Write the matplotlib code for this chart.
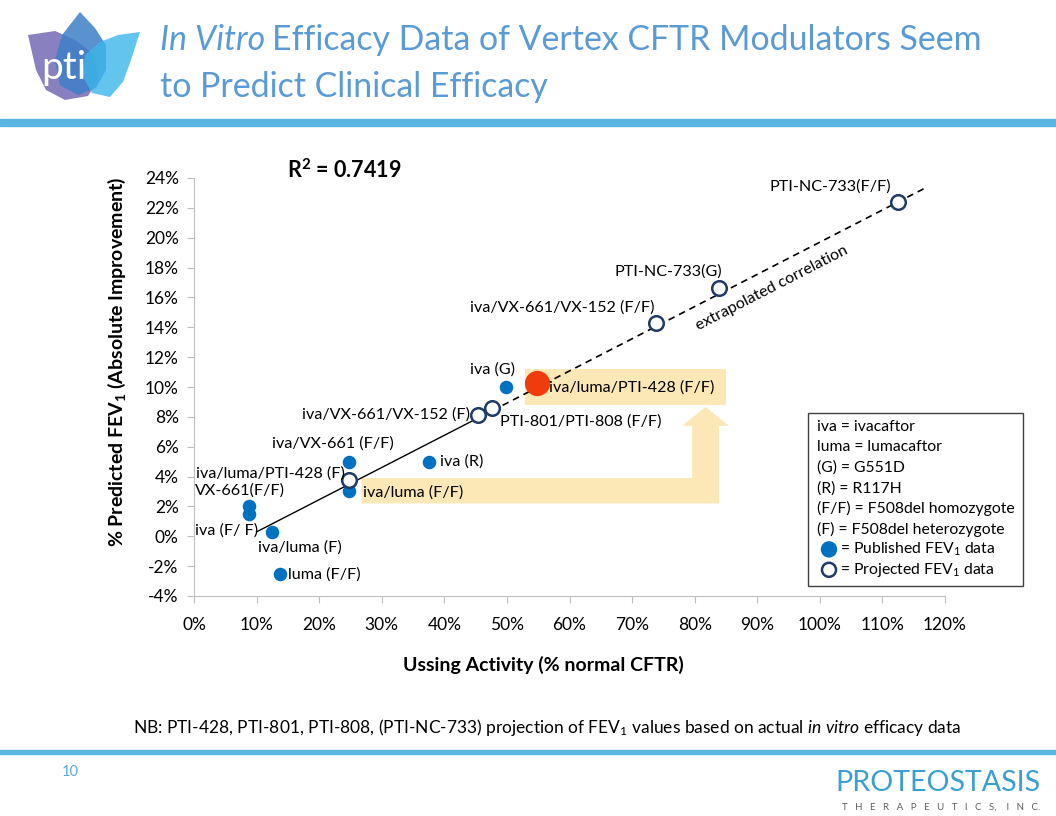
import matplotlib
matplotlib.use("Agg")
import matplotlib.pyplot as plt
from matplotlib.patches import Polygon, Rectangle, Ellipse
from matplotlib import font_manager
import numpy as np

plt.rcParams['font.family'] = ['Lato', 'DejaVu Sans']
plt.rcParams['mathtext.fontset'] = 'custom'
plt.rcParams['mathtext.rm'] = 'Lato'
plt.rcParams['mathtext.it'] = 'Lato:italic'
plt.rcParams['mathtext.bf'] = 'Lato:bold'

# ---------------- data ----------------
published_labels = ["iva (F/ F)", "VX-661(F/F)", "iva/luma (F)", "luma (F/F)",
                    "iva/VX-661 (F/F)", "iva/luma (F/F)", "iva (R)", "iva (G)"]
published_x = [8.8, 8.8, 12.5, 13.7, 24.8, 24.8, 37.5, 49.8]
published_y = [1.5, 2.0, 0.3, -2.5, 5.0, 3.0, 5.0, 10.0]

projected_labels = ["iva/luma/PTI-428 (F)", "iva/VX-661/VX-152 (F)", "PTI-801/PTI-808 (F/F)",
                    "iva/VX-661/VX-152 (F/F)", "PTI-NC-733(G)", "PTI-NC-733(F/F)"]
projected_x = [24.8, 45.4, 47.6, 73.8, 83.9, 112.5]
projected_y = [3.8, 8.1, 8.6, 14.3, 16.6, 22.4]

highlight_label = "iva/luma/PTI-428 (F/F)"
highlight_x = [54.8]
highlight_y = [10.3]

fit_slope = 0.2156
fit_intercept = -1.86
fit_solid_x = [10.0, 46.0]
fit_dashed_x = [46.0, 117.0]
r2_text = "0.7419"

x_ticks = list(range(0, 130, 10))
y_ticks = list(range(-4, 26, 2))

legend_lines = ["iva = ivacaftor", "luma = lumacaftor", "(G) = G551D", "(R) = R117H",
                "(F/F) = F508del homozygote", "(F) = F508del heterozygote"]

# ---------------- figure ----------------
W, H = 1056, 816
fig = plt.figure(figsize=(W / 100, H / 100), dpi=100)

def fx(px):
    return px / W

def fy(py):
    return 1 - py / H

BLUE = '#0070c0'
NAVY = '#1f3b68'
RED = '#f03c0c'
YEL = '#fce8b6'
TITLE = '#5b9bd5'

available = {f.name for f in font_manager.fontManager.ttflist}
narrow = 'Liberation Sans Narrow' if 'Liberation Sans Narrow' in available else 'Lato'

# top and bottom bars
fig.patches.append(Rectangle((0, fy(126)), 1, 7 / H, transform=fig.transFigure,
                             color='#58b6e2', zorder=0))
fig.patches.append(Rectangle((fx(0), fy(754)), 1, 4 / H, transform=fig.transFigure,
                             color='#58b6e2', zorder=0))

# title
TFS = 24.4
t1 = fig.text(fx(160), fy(40), "In Vitro", fontsize=TFS, color=TITLE, style='italic',
              va='center', ha='left')
fig.canvas.draw()
bb = t1.get_window_extent()
fig.text(bb.x1 / W + 7 / W, fy(40), "Efficacy Data of Vertex CFTR Modulators Seem",
         fontsize=TFS, color=TITLE, va='center', ha='left')
fig.text(fx(160), fy(87), "to Predict Clinical Efficacy", fontsize=TFS, color=TITLE,
         va='center', ha='left')

# logo
lax = fig.add_axes([0, fy(110), 150 / W, 110 / H])
lax.set_xlim(0, 150)
lax.set_ylim(110, 0)
lax.axis('off')
lax.add_patch(Polygon([[28, 35], [55, 31], [75, 40], [95, 55], [98, 80], [88, 96], [65, 100],
                       [46, 90], [36, 70]], closed=True, color='#7b72b8', alpha=0.9, lw=0))
lax.add_patch(Polygon([[80, 12], [95, 28], [106, 45], [106, 70], [96, 88], [78, 95],
                       [60, 85], [55, 60], [62, 35]], closed=True, color='#3d7fc8', alpha=0.85, lw=0))
lax.add_patch(Polygon([[140, 32], [118, 35], [100, 42], [85, 55], [82, 75], [92, 93],
                       [110, 97], [123, 82], [131, 60]], closed=True, color='#3cb6ea', alpha=0.8, lw=0))
lax.text(64, 68, "pti", fontsize=28, color='white', ha='center', va='center')

# main axes
x0, x1p, y0p, y1p = 194, 945, 178, 596
ax = fig.add_axes([fx(x0), fy(y1p), (x1p - x0) / W, (y1p - y0p) / H])
ax.set_xlim(0, 120)
ax.set_ylim(-4, 24)
ax.set_xticks(x_ticks)
ax.set_xticklabels([f"{v}%" for v in x_ticks])
ax.set_yticks(y_ticks)
ax.set_yticklabels([f"{v}%" for v in y_ticks])
for s in ['top', 'right']:
    ax.spines[s].set_visible(False)
for s in ['left', 'bottom']:
    ax.spines[s].set_color('#bfbfbf')
ax.tick_params(axis='both', colors='#bfbfbf', labelcolor='black', labelsize=12.5, length=5)
ax.tick_params(axis='x', pad=10)
ax.tick_params(axis='y', pad=6)
ax.patch.set_alpha(0)

ax.set_xlabel("Ussing Activity (% normal CFTR)", fontsize=14, fontweight='bold')
ax.xaxis.set_label_coords((543 - x0) / (x1p - x0), -(665 - y1p) / (y1p - y0p))
ax.xaxis.label.set_va('center')
ax.set_ylabel("% Predicted FEV$_\\mathbf{1}$ (Absolute Improvement)", fontsize=14,
              fontweight='bold')
ax.yaxis.set_label_coords(-(x0 - 117) / (x1p - x0), (y1p - 362) / (y1p - y0p))
ax.yaxis.label.set_va('center')

# highlight shapes (arrow and box)
ax.add_patch(Polygon([[26.8, 3.9], [79.6, 3.9], [79.6, 7.4], [78.0, 7.4], [81.75, 8.66],
                      [85.5, 7.4], [83.9, 7.4], [83.9, 2.2], [26.8, 2.2]],
                     closed=True, color=YEL, lw=0, zorder=1))
ax.add_patch(Rectangle((52.9, 8.8), 32.1, 2.4, color=YEL, lw=0, zorder=1))

# fit line
xs = np.array(fit_solid_x)
ax.plot(xs, fit_slope * xs + fit_intercept, color='black', lw=1.0, zorder=2)
xd = np.array(fit_dashed_x)
ax.plot(xd, fit_slope * xd + fit_intercept, color='black', lw=1.2, ls=(0, (4, 3)), zorder=2)

# points
ax.scatter(published_x, published_y, s=95, color=BLUE, zorder=4, lw=0)
ax.scatter(projected_x, projected_y, s=110, facecolor='white', edgecolor=NAVY, lw=1.8, zorder=4)
ax.scatter(highlight_x, highlight_y, s=330, color=RED, zorder=5, lw=0)

LFS = 11.6
pub_off = [(-23, -17, 'center'), (-9, 16, 'center'), (28, -16, 'center'), (8, -1, 'left'),
           (-16, 18, 'center'), (14, -1, 'left'), (11, 0, 'left'), (-13, 17, 'center')]
for lab, x, y, (dx, dy, ha) in zip(published_labels, published_x, published_y, pub_off):
    ax.annotate(lab, (x, y), xytext=(dx * 0.72, dy * 0.72), textcoords='offset points',
                ha=ha, va='center', fontsize=LFS, zorder=6)
proj_off = [(-79, 6, 'center'), (-8, 1, 'right'), (8, -14, 'left'), (-94, 15, 'center'),
            (-51, 17, 'center'), (-68, 15, 'center')]
for lab, x, y, (dx, dy, ha) in zip(projected_labels, projected_x, projected_y, proj_off):
    ax.annotate(lab, (x, y), xytext=(dx * 0.72, dy * 0.72), textcoords='offset points',
                ha=ha, va='center', fontsize=LFS, zorder=6)
ax.annotate(highlight_label, (highlight_x[0], highlight_y[0]), xytext=(12 * 0.72, -5 * 0.72),
            textcoords='offset points', ha='left', va='center', fontsize=LFS, zorder=6)

# extrapolated correlation label
ang = np.degrees(np.arctan(fit_slope * (418 / 28) / ((x1p - x0) / 120)))
ax.text(92.3, fit_slope * 92.3 + fit_intercept - 1.45, "extrapolated correlation",
        rotation=ang, rotation_mode='anchor', ha='center', va='center', fontsize=11.5)

# R2
fig.text(fx(287), fy(170), "R$^\\mathbf{2}$ = " + r2_text, fontsize=15.5, fontweight='bold',
         va='center', ha='left')

# legend box
fig.patches.append(Rectangle((fx(808), fy(586)), 215 / W, 173 / H, transform=fig.transFigure,
                             facecolor='white', edgecolor='#404040', lw=1.0, zorder=3))
ly = 427
LS = 20.4
for line in legend_lines:
    fig.text(fx(817), fy(ly), line, fontsize=11.3, va='center', ha='left', zorder=4)
    ly += LS
fig.add_artist(Ellipse((fx(829), fy(ly)), 15 / W, 15 / H, transform=fig.transFigure,
                       color=BLUE, zorder=4))
fig.text(fx(840), fy(ly), "= Published FEV$_1$ data", fontsize=11.3, va='center', ha='left', zorder=4)
ly += LS
fig.add_artist(Ellipse((fx(829), fy(ly)), 14 / W, 14 / H, transform=fig.transFigure,
                       facecolor='white', edgecolor=NAVY, lw=1.8, zorder=4))
fig.text(fx(840), fy(ly), "= Projected FEV$_1$ data", fontsize=11.3, va='center', ha='left', zorder=4)

# footnote
fig.text(fx(133), fy(727), "NB: PTI-428, PTI-801, PTI-808, (PTI-NC-733) projection of FEV$_1$ values "
         "based on actual $\\it{in\\ vitro}$ efficacy data", fontsize=12.5, va='center', ha='left')

# page number and company logo
fig.text(fx(62), fy(772), "10", fontsize=10.5, color='#5aa9d6', va='center', ha='left')
pt = fig.text(fx(1040), fy(783), "PROTEOSTASIS", fontsize=26, color='#3b9fd1', va='center',
              ha='right', family=narrow)
fig.canvas.draw()
wpx = pt.get_window_extent().width
if wpx > 0:
    pt.set_fontsize(min(28, 26 * 205 / wpx))
fig.text(fx(1040), fy(807), "T   H   E   R   A   P   E   U   T   I   C   S,    I   N   C.",
         fontsize=7, color='#606060', va='center', ha='right')

fig.savefig("out.png", dpi=100)
